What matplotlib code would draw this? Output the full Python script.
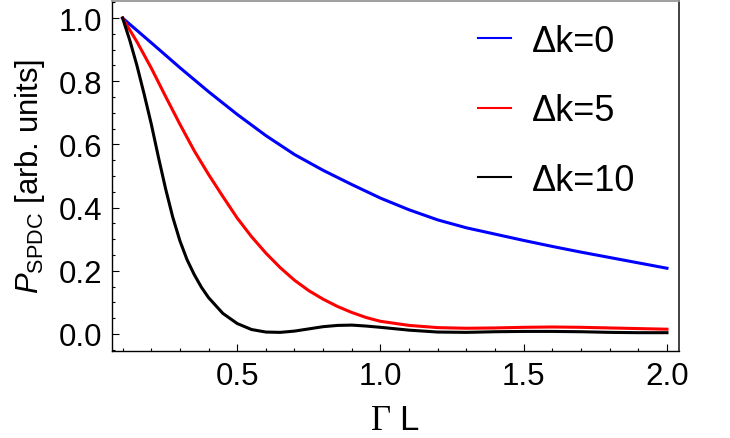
import matplotlib
matplotlib.use("Agg")
import matplotlib.pyplot as plt
from matplotlib.ticker import MultipleLocator, FormatStrFormatter

OUT_NAME = "out.png"
FONT = "Liberation Sans"
TICK_SIZE = 22.5
LABEL_SIZE = 22.3
XLABEL_SIZE = 25
LEGEND_SIZE = 26

X_LABEL = r"$\Gamma$ L"
Y_LABEL = r"$P_{\mathsf{SPDC}}$ [arb. units]"

LABELS = ["Δk=0", "Δk=5", "Δk=10"]
COLORS = ["#0000FF", "#FF0000", "#000000"]

# values
X_BLUE = [0.1, 0.2, 0.3, 0.4, 0.5, 0.6, 0.7, 0.8, 0.9, 1.0,
          1.1, 1.2, 1.3, 1.4, 1.5, 1.6, 1.7, 1.8, 1.9, 2.0]
Y_BLUE = [1.0, 0.922, 0.843, 0.767, 0.695, 0.628, 0.568, 0.518, 0.473, 0.43,
          0.393, 0.361, 0.336, 0.316, 0.296, 0.277, 0.259, 0.242, 0.225, 0.208]

X_RED = [0.1, 0.15, 0.2, 0.25, 0.3, 0.35, 0.4, 0.45, 0.5, 0.55,
         0.6, 0.65, 0.7, 0.75, 0.8, 0.85, 0.9, 0.95, 1.0, 1.1,
         1.2, 1.3, 1.4, 1.5, 1.6, 1.7, 1.8, 1.9, 2.0]
Y_RED = [1.0, 0.925, 0.842, 0.752, 0.664, 0.58, 0.505, 0.435, 0.367, 0.308,
         0.256, 0.21, 0.17, 0.137, 0.11, 0.087, 0.068, 0.052, 0.04, 0.027,
         0.02, 0.018, 0.019, 0.021, 0.022, 0.021, 0.019, 0.017, 0.015]

X_BLACK = [0.1, 0.125, 0.15, 0.175, 0.2, 0.225, 0.25, 0.275, 0.3, 0.325,
           0.35, 0.375, 0.4, 0.45, 0.5, 0.55, 0.6, 0.65, 0.7, 0.75,
           0.8, 0.85, 0.9, 0.95, 1.0, 1.1, 1.2, 1.3, 1.4, 1.5,
           1.6, 1.7, 1.8, 1.9, 2.0]
Y_BLACK = [1.0, 0.93, 0.85, 0.76, 0.665, 0.56, 0.46, 0.37, 0.295, 0.235,
           0.188, 0.148, 0.115, 0.065, 0.033, 0.014, 0.006, 0.005, 0.009, 0.016,
           0.023, 0.027, 0.028, 0.025, 0.021, 0.012, 0.006, 0.005, 0.007, 0.008,
           0.008, 0.007, 0.005, 0.004, 0.004]

X_MAJOR = 0.5
X_MINOR = 0.1
Y_MAJOR = 0.2
Y_MINOR = 0.05


def style_axes(ax):
    ax.set_xlim(0.062, 2.042)
    ax.set_ylim(-0.054, 1.055)
    ax.xaxis.set_major_locator(MultipleLocator(X_MAJOR))
    ax.xaxis.set_minor_locator(MultipleLocator(X_MINOR))
    ax.yaxis.set_major_locator(MultipleLocator(Y_MAJOR))
    ax.yaxis.set_minor_locator(MultipleLocator(Y_MINOR))
    ax.xaxis.set_major_formatter(FormatStrFormatter("%.1f"))
    ax.yaxis.set_major_formatter(FormatStrFormatter("%.1f"))
    ax.tick_params(which="both", direction="in", top=False, right=False,
                   width=0.8, labelsize=TICK_SIZE, pad=7)
    ax.tick_params(which="major", length=4.8)
    ax.tick_params(which="minor", length=2.4)
    for side in ["left", "bottom"]:
        ax.spines[side].set_linewidth(1.0)
    ax.spines["top"].set_color("#999999")
    ax.spines["top"].set_linewidth(1.3)
    ax.spines["right"].set_color("#333333")
    ax.spines["right"].set_linewidth(1.3)
    ax.set_xlabel(X_LABEL, fontsize=XLABEL_SIZE, labelpad=9)
    ax.set_ylabel(Y_LABEL, fontsize=LABEL_SIZE, labelpad=8)


def draw():
    plt.rcParams["font.family"] = [FONT, "DejaVu Sans"]
    plt.rcParams["mathtext.fontset"] = "custom"
    plt.rcParams["mathtext.rm"] = "Liberation Serif"
    plt.rcParams["mathtext.it"] = "Liberation Sans:italic"
    plt.rcParams["mathtext.sf"] = "Liberation Sans"

    fig = plt.figure(figsize=(7.3, 4.39), dpi=100)
    ax = fig.add_axes([111.7 / 730, 87 / 439, (679 - 111.7) / 730, (352 - 1.7) / 439])

    series = [(X_BLUE, Y_BLUE), (X_RED, Y_RED), (X_BLACK, Y_BLACK)]
    for (xs, ys), color, label in zip(series, COLORS, LABELS):
        ax.plot(xs, ys, color=color, lw=2.2, label=label, solid_joinstyle="round")

    style_axes(ax)

    leg = ax.legend(loc="upper left", bbox_to_anchor=(477.7 / 730, 1 - 25 / 439),
                    bbox_transform=fig.transFigure, frameon=False, borderpad=0,
                    borderaxespad=0, fontsize=LEGEND_SIZE, handlelength=0.92,
                    handletextpad=0.58, labelspacing=0.95)
    for line in leg.get_lines():
        line.set_linewidth(1.5)

    fig.savefig(OUT_NAME, dpi=100)


if __name__ == "__main__":
    draw()
